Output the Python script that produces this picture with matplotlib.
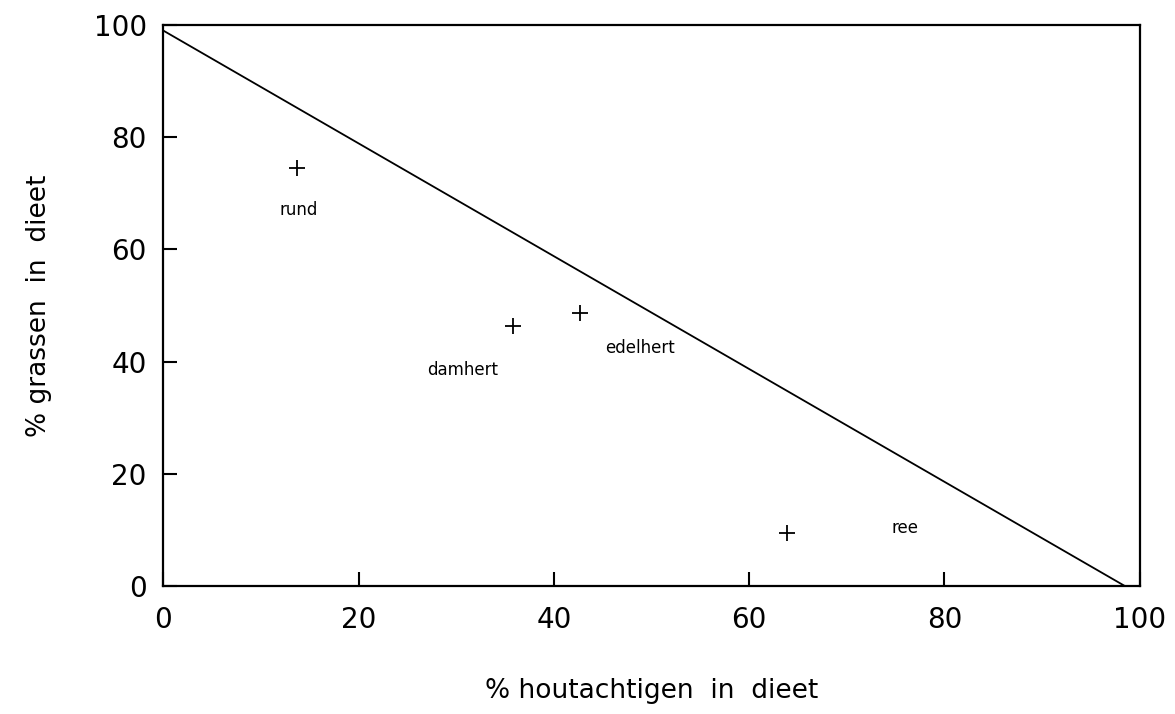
import matplotlib.pyplot as plt

# data
species = ['rund', 'damhert', 'edelhert', 'ree']
houtachtig = [13.7, 35.8, 42.7, 63.9]
grassen = [74.5, 46.3, 48.7, 9.4]
label_x = [13.9, 30.7, 48.8, 76.0]
label_y = [67.0, 38.5, 42.4, 10.3]

# scheidingslijn
line_x = [0, 100]
line_y = [99, -1.5]

ticks = [0, 20, 40, 60, 80, 100]

plt.rcParams['font.family'] = ['DejaVu Sans']

fig = plt.figure(figsize=(11.75, 7.14), dpi=100)
ax = fig.add_axes([0.139, 0.179, 0.831, 0.786])

ax.plot(line_x, line_y, color='black', linewidth=1.3)
ax.plot(houtachtig, grassen, linestyle='none', marker='+', markersize=12,
        markeredgewidth=1.3, color='black')

for name, tx, ty in zip(species, label_x, label_y):
    ax.text(tx, ty, name, ha='center', va='center', fontsize=12)

ax.set_xlim(0, 100)
ax.set_ylim(0, 100)
ax.set_xticks(ticks)
ax.set_yticks(ticks)
ax.tick_params(direction='in', length=10, width=1.5, labelsize=20,
               labelcolor='black')
ax.tick_params(axis='x', pad=14)
ax.tick_params(axis='y', pad=12)
for s in ax.spines.values():
    s.set_linewidth(1.6)

ax.set_xlabel('% houtachtigen  in  dieet', fontsize=19, labelpad=32)
ax.set_ylabel('% grassen  in  dieet', fontsize=19, labelpad=30)

fig.savefig('out.png', dpi=100, facecolor='white')
